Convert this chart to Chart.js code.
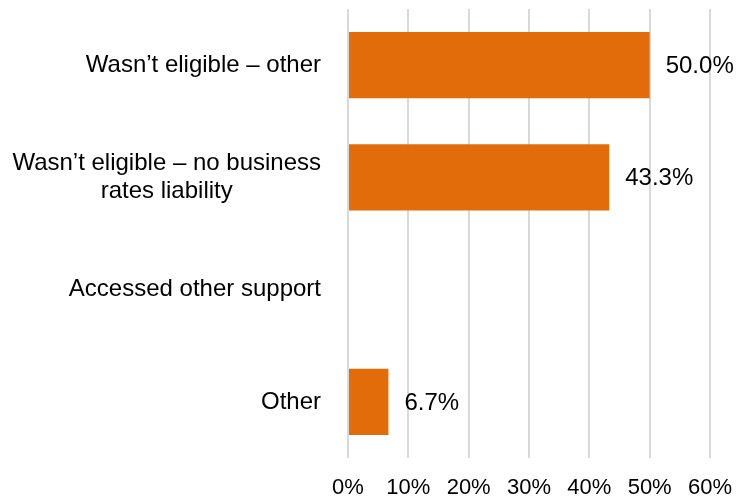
<!DOCTYPE html>
<html>
<head>
<meta charset="utf-8">
<script src="https://cdn.jsdelivr.net/npm/chart.js@4/dist/chart.umd.min.js"></script>
<style>
html,body{margin:0;padding:0;background:#fff;}
#wrap{width:736px;height:500px;}
</style>
</head>
<body>
<div id="wrap"><canvas id="c" width="736" height="500"></canvas></div>
<script>
const categories = [
  ["Wasn\u2019t eligible \u2013 other"],
  ["Wasn\u2019t eligible \u2013 no business", "rates liability"],
  ["Accessed other support"],
  ["Other"]
];
const values = [50.0, 43.3, null, 6.7];
const valueLabels = ["50.0%", "43.3%", "", "6.7%"];
const xTicks = [0, 10, 20, 30, 40, 50, 60];

const FONT = "'Liberation Sans', Arial, sans-serif";
const FS = 24;
const TICK_FS = 22;

const catLabelPlugin = {
  id: 'catLabels',
  afterDraw(chart) {
    const ctx = chart.ctx;
    const yScale = chart.scales.y;
    const right = chart.chartArea.left - 27;
    ctx.save();
    ctx.font = FS + "px " + FONT;
    ctx.fillStyle = "#000";
    ctx.textBaseline = "middle";
    ctx.textAlign = "center";
    const lh = 28;
    categories.forEach((lines, i) => {
      const yc = yScale.getPixelForValue(i);
      const maxW = Math.max(...lines.map(l => ctx.measureText(l).width));
      const cx = right - maxW / 2;
      const y0 = yc - (lines.length - 1) * lh / 2;
      lines.forEach((l, j) => ctx.fillText(l, cx, y0 + j * lh));
    });
    const meta = chart.getDatasetMeta(0);
    ctx.textAlign = "left";
    meta.data.forEach((bar, i) => {
      if (values[i] === null) return;
      ctx.fillText(valueLabels[i], bar.x + 16, bar.y + 1);
    });
    ctx.restore();
  }
};

new Chart(document.getElementById('c'), {
  type: 'bar',
  data: {
    labels: categories,
    datasets: [{
      data: values,
      backgroundColor: '#E36C0A',
      borderWidth: 0,
      barPercentage: 0.59,
      categoryPercentage: 1.0
    }]
  },
  options: {
    indexAxis: 'y',
    responsive: false,
    animation: false,
    layout: { padding: { left: 348, top: 9, right: 26, bottom: 0 } },
    plugins: { legend: { display: false }, tooltip: { enabled: false } },
    scales: {
      x: {
        min: 0, max: 60,
        afterBuildTicks(scale) { scale.ticks = xTicks.map(v => ({ value: v })); },
        afterFit(scale) { scale.height = 42; scale.paddingRight = 0; scale.paddingLeft = 0; },
        grid: { color: '#D9D9D9', lineWidth: 2, drawTicks: false },
        border: { display: false },
        ticks: {
          color: '#000',
          font: { family: FONT, size: TICK_FS },
          padding: 17,
          callback: v => v + '%'
        }
      },
      y: {
        afterFit(scale) { scale.width = 0; },
        grid: { display: false },
        border: { display: false },
        ticks: { display: false }
      }
    }
  },
  plugins: [catLabelPlugin]
});
</script>
</body>
</html>
